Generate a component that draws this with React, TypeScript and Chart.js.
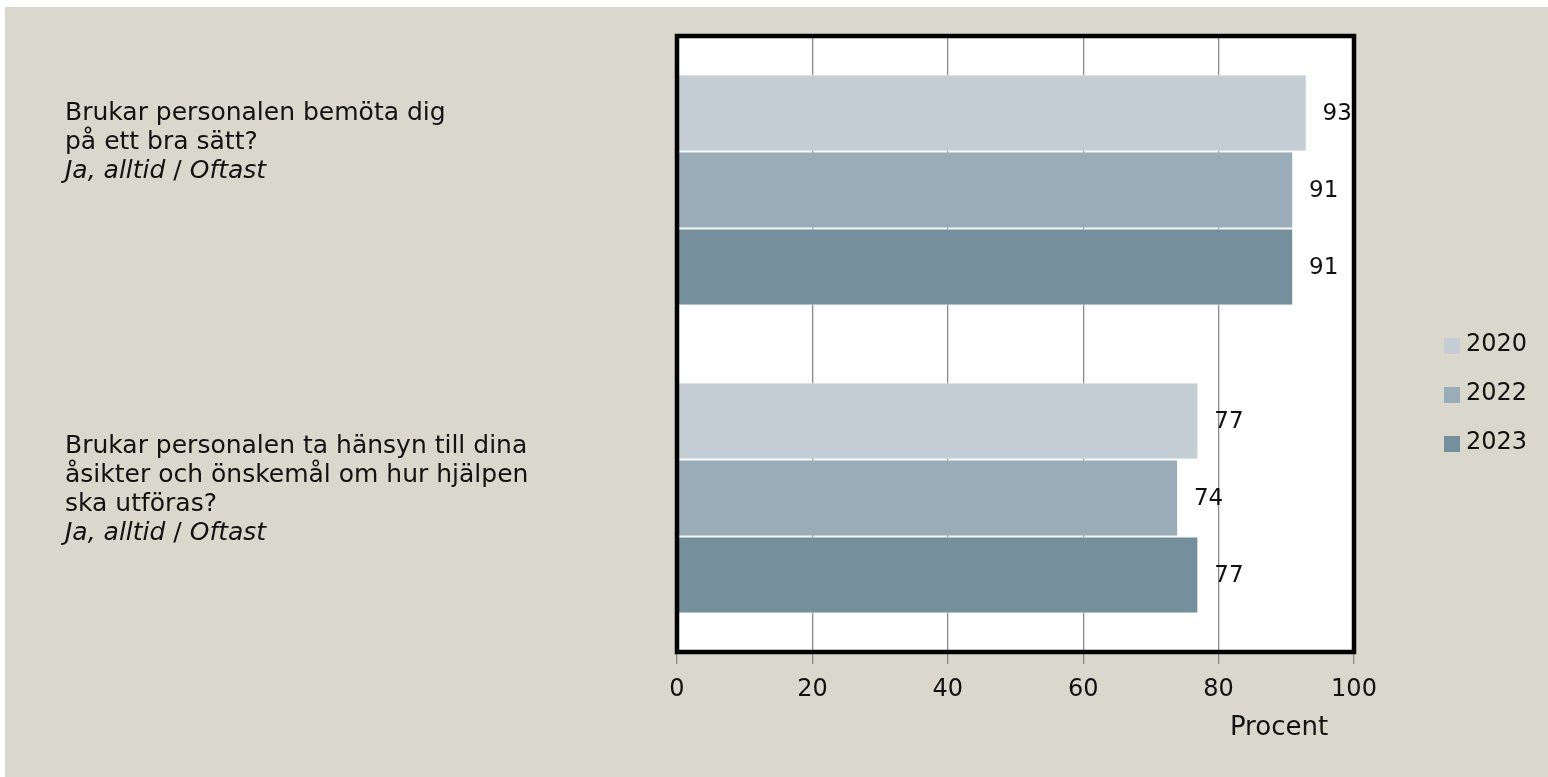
import React, { useEffect, useRef } from "react";
import { Chart, registerables } from "chart.js";

Chart.register(...registerables);

// ---------- data ----------
const questionLines: string[][] = [
  ["Brukar personalen bemöta dig", "på ett bra sätt?"],
  ["Brukar personalen ta hänsyn till dina", "åsikter och önskemål om hur hjälpen", "ska utföras?"],
];
const answerParts = ["Ja, alltid", " / ", "Oftast"]; // italic, upright, italic
const seriesNames = ["2020", "2022", "2023"];
const values2020 = [93, 77];
const values2022 = [91, 74];
const values2023 = [91, 77];
const xTickValues = [0, 20, 40, 60, 80, 100];
const axisTitle = "Procent";

// ---------- style ----------
const FONT = '"DejaVu Sans", "Noto Sans", sans-serif';
const barColors = ["#C3CDD3", "#9AACB7", "#758F9D"];
const BG = "#DAD8CC";
const TEXT = "#111111";
const labelFirstBaselineShift = [-70, -45];
const LINE_PITCH = 29;

const customPlugin = {
  id: "customDraw",
  beforeDraw(chart: any) {
    const { ctx, chartArea: a } = chart;
    ctx.save();
    ctx.fillStyle = BG;
    ctx.fillRect(0, 0, chart.width, chart.height);
    ctx.fillStyle = "#ffffff";
    ctx.fillRect(a.left, a.top, a.right - a.left, a.bottom - a.top);
    ctx.restore();
  },
  afterDatasetsDraw(chart: any) {
    const { ctx, chartArea: a } = chart;
    ctx.save();
    // data labels
    ctx.fillStyle = TEXT;
    ctx.font = `23px ${FONT}`;
    ctx.textAlign = "left";
    ctx.textBaseline = "middle";
    chart.data.datasets.forEach((ds: any, di: number) => {
      const meta = chart.getDatasetMeta(di);
      meta.data.forEach((bar: any, i: number) => {
        ctx.fillText(String(ds.data[i]), bar.x + 16, bar.y + 1);
      });
    });

    // plot border
    ctx.strokeStyle = "#000000";
    ctx.lineWidth = 4.5;
    ctx.strokeRect(a.left, a.top, a.right - a.left, a.bottom - a.top);

    // category labels
    const yScale = chart.scales.y;
    ctx.textBaseline = "alphabetic";
    questionLines.forEach((lines, i) => {
      const c = yScale.getPixelForValue(i);
      let base = c + labelFirstBaselineShift[i];
      const x0 = 60;
      ctx.font = `25px ${FONT}`;
      lines.forEach((ln) => {
        ctx.fillText(ln, x0, base);
        base += LINE_PITCH;
      });
      let x = x0;
      answerParts.forEach((part, pi) => {
        ctx.font = `${pi === 1 ? "" : "italic "}25px ${FONT}`;
        ctx.fillText(part, x, base);
        x += ctx.measureText(part).width;
      });
    });

    // legend
    ctx.font = `24px ${FONT}`;
    ctx.textBaseline = "middle";
    chart.data.datasets.forEach((ds: any, di: number) => {
      const sx = a.right + 90;
      const cy = a.top + 310 + di * 49;
      ctx.fillStyle = ds.backgroundColor;
      ctx.fillRect(sx, cy - 8, 16, 16);
      ctx.fillStyle = TEXT;
      ctx.fillText(ds.label, sx + 22, cy - 1);
    });

    // axis title
    ctx.font = `26px ${FONT}`;
    ctx.textAlign = "center";
    ctx.fillText(axisTitle, a.right - 75, a.bottom + 76);
    ctx.restore();
  },
};

export default function App() {
  const ref = useRef<HTMLCanvasElement | null>(null);

  useEffect(() => {
    if (!ref.current) return;
    const seriesValues = [values2020, values2022, values2023];
    const chart = new Chart(ref.current, {
      type: "bar",
      data: {
        labels: questionLines.map((l) => l.join(" ")),
        datasets: seriesNames.map((name, i) => ({
          label: name,
          data: seriesValues[i],
          backgroundColor: barColors[i],
          borderColor: "rgba(235,240,242,0.9)",
          borderWidth: 1,
          categoryPercentage: 0.75,
          barPercentage: 1.0,
        })),
      },
      options: {
        indexAxis: "y",
        animation: false,
        responsive: false,
        devicePixelRatio: 1,
        layout: { padding: { left: 672, right: 194, top: 29, bottom: 65 } },
        plugins: {
          legend: { display: false },
          tooltip: { enabled: false },
        },
        scales: {
          x: {
            min: 0,
            max: 100,
            afterFit: (scale: any) => {
              scale.height = 60;
            },
            afterBuildTicks: (scale: any) => {
              scale.ticks = xTickValues.map((v) => ({ value: v }));
            },
            ticks: {
              color: TEXT,
              font: { family: FONT, size: 24 },
              padding: 11,
              maxRotation: 0,
            },
            grid: {
              color: "#8a8a8a",
              tickColor: "#8a8a8a",
              lineWidth: 1.3,
              tickLength: 12,
            },
            border: { display: false },
          },
          y: {
            type: "category",
            display: false,
          },
        },
      },
      plugins: [customPlugin],
    } as any);
    return () => chart.destroy();
  }, []);

  return (
    <div
      style={{
        position: "fixed",
        left: 5,
        top: 7,
        width: 1543,
        height: 770,
        background: BG,
      }}
    >
      <canvas ref={ref} width={1543} height={770} style={{ display: "block" }} />
    </div>
  );
}
